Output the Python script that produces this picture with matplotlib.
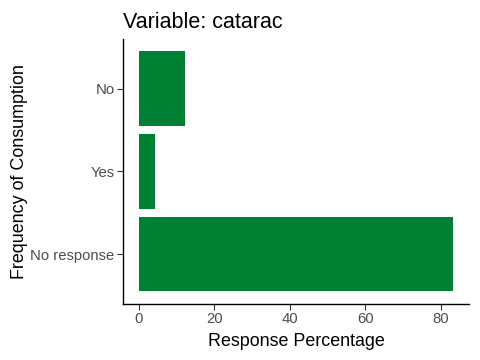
import numpy as np
import matplotlib
matplotlib.use("Agg")
import matplotlib.pyplot as plt

plt.rcParams['font.family'] = ['Liberation Sans', 'DejaVu Sans']

# datos (de arriba hacia abajo)
categorias = ['No', 'Yes', 'No response']
porcentajes = [12.3, 4.4, 83.3]
ticks_x = [0, 20, 40, 60, 80]

fig = plt.figure(figsize=(4.8, 3.6), dpi=100)
ax = fig.add_axes([0.256, 0.156, 0.721, 0.736])

pos = np.arange(len(categorias))[::-1]
ax.barh(pos, porcentajes, height=0.9, color='#008033')

ax.set_yticks(pos)
ax.set_yticklabels(categorias)
ax.set_xticks(ticks_x)
ax.set_xlim(-0.05 * max(porcentajes), 1.05 * max(porcentajes))
ax.set_ylim(-0.6, 2.6)

for lado in ['top', 'right']:
    ax.spines[lado].set_visible(False)
for lado in ['left', 'bottom']:
    ax.spines[lado].set_linewidth(1.0)
ax.tick_params(axis='both', length=4, width=0.8, color='#333333',
               labelcolor='#4D4D4D', labelsize=10.7, pad=2)

ax.set_xlabel('Response Percentage', fontsize=12.9, color='black', labelpad=5)
ax.set_ylabel('Frequency of Consumption', fontsize=12.9, color='black')
ax.yaxis.set_label_coords(-0.275, 0.5)
ax.set_title('Variable: catarac', fontsize=15.5, loc='left', pad=8)

fig.savefig('out.png', dpi=100)
